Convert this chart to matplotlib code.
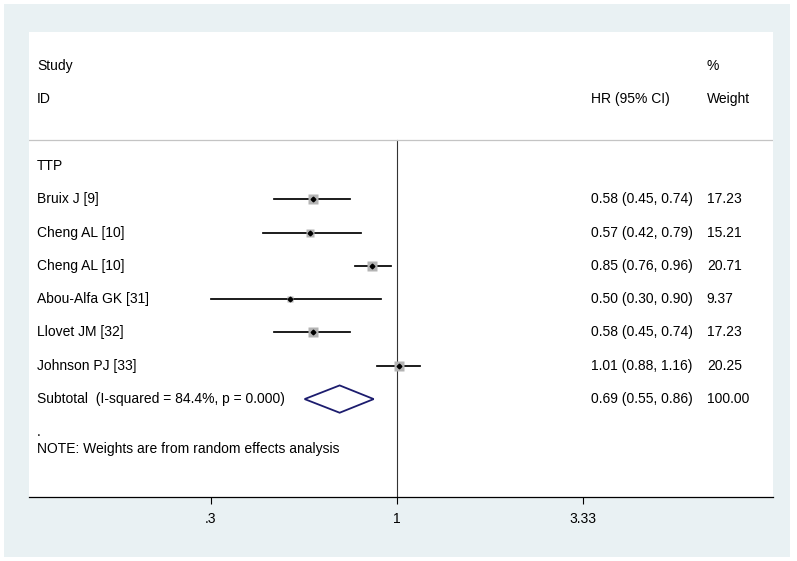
import numpy as np
import matplotlib.pyplot as plt
from matplotlib.patches import Rectangle, Polygon
from matplotlib.ticker import FixedLocator, NullLocator, FixedFormatter

plt.rcParams['font.family'] = ['Liberation Sans', 'DejaVu Sans']

# study data (HR, 95% CI, % weight)
studies = ['Bruix J [9]', 'Cheng AL [10]', 'Cheng AL [10]', 'Abou-Alfa GK [31]',
           'Llovet JM [32]', 'Johnson PJ [33]']
hr = [0.58, 0.57, 0.85, 0.50, 0.58, 1.01]
lo = [0.45, 0.42, 0.76, 0.30, 0.45, 0.88]
hi = [0.74, 0.79, 0.96, 0.90, 0.74, 1.16]
weight = [17.23, 15.21, 20.71, 9.37, 17.23, 20.25]

sub_label = 'Subtotal  (I-squared = 84.4%, p = 0.000)'
sub_hr, sub_lo, sub_hi = 0.69, 0.55, 0.86

tick_vals = [0.3, 1, 3.33]
tick_labels = ['.3', '1', '3.33']

W, H = 797, 561
fig = plt.figure(figsize=(W / 100, H / 100), dpi=100, facecolor='white')

# light background frame
fig.patches.append(Rectangle((4 / W, 1 - 557 / H), 786 / W, 553 / H,
                             transform=fig.transFigure, facecolor='#e9f1f3',
                             edgecolor='none', zorder=-2))

left, right, top, bottom = 29, 773, 32, 497
ax = fig.add_axes([left / W, 1 - bottom / H, (right - left) / W, (bottom - top) / H])
ax.set_facecolor('white')
ax.set_xscale('log')
ax.set_xlim(0.0924, 11.40)
ax.set_ylim(12.94, -1.02)

for s in ['top', 'left', 'right']:
    ax.spines[s].set_visible(False)
ax.spines['bottom'].set_linewidth(0.9)
ax.yaxis.set_visible(False)
ax.xaxis.set_major_locator(FixedLocator(tick_vals))
ax.xaxis.set_major_formatter(FixedFormatter(tick_labels))
ax.xaxis.set_minor_locator(NullLocator())
ax.tick_params(axis='x', length=5, width=0.8, pad=6, labelsize=10)

# separator line + null line
ax.axhline(2.22, color='#c4c4c4', lw=0.9)
ax.plot([1, 1], [2.22, 12.94], color='#333333', lw=0.8, zorder=1)

tr = ax.get_yaxis_transform()
fs = 10
xl, xhr, xw = 0.0108, 0.755, 0.911

ax.text(xl, 0, 'Study', transform=tr, fontsize=fs, va='center')
ax.text(xl, 1, 'ID', transform=tr, fontsize=fs, va='center')
ax.text(xw, 0, '%', transform=tr, fontsize=fs, va='center')
ax.text(xhr, 1, 'HR (95% CI)', transform=tr, fontsize=fs, va='center')
ax.text(xw, 1, 'Weight', transform=tr, fontsize=fs, va='center')
ax.text(xl, 3, 'TTP', transform=tr, fontsize=fs, va='center')

rows = np.arange(len(studies)) + 4
for i, y in enumerate(rows):
    ax.plot([lo[i], hi[i]], [y, y], color='black', lw=1.25, zorder=2)
    ms = 7.3 * np.sqrt(weight[i] / 20.71)
    ax.plot(hr[i], y, marker='s', ms=ms, color='#b4b4b4', mec='none', zorder=3)
    ax.plot(hr[i], y, marker='D', ms=2.4, color='black', zorder=4)
    ax.text(xl, y, studies[i], transform=tr, fontsize=fs, va='center')
    ax.text(xhr, y, '%.2f (%.2f, %.2f)' % (hr[i], lo[i], hi[i]),
            transform=tr, fontsize=fs, va='center')
    ax.text(xw, y, '%.2f' % weight[i], transform=tr, fontsize=fs, va='center')

ys = 10
ax.add_patch(Polygon([(sub_lo, ys), (sub_hr, ys - 0.41), (sub_hi, ys), (sub_hr, ys + 0.41)],
                     closed=True, facecolor='none', edgecolor='#1c1c6e', lw=1.3, zorder=3))
ax.text(xl, ys, sub_label, transform=tr, fontsize=fs, va='center')
ax.text(xhr, ys, '%.2f (%.2f, %.2f)' % (sub_hr, sub_lo, sub_hi), transform=tr, fontsize=fs, va='center')
ax.text(xw, ys, '100.00', transform=tr, fontsize=fs, va='center')

ax.text(xl, 11, '.', transform=tr, fontsize=fs, va='center')
ax.text(xl, 11.5, 'NOTE: Weights are from random effects analysis', transform=tr,
        fontsize=fs, va='center')

fig.savefig('out.png', dpi=100, facecolor='white')
